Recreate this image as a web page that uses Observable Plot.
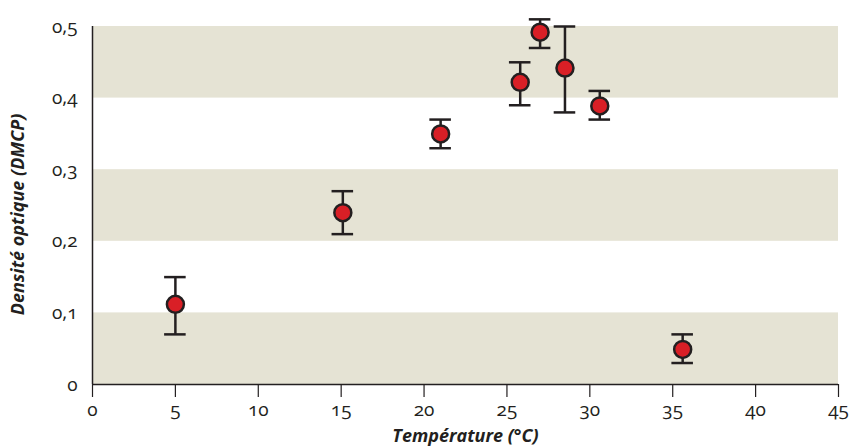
<!DOCTYPE html>
<html>
<head>
<meta charset="utf-8">
<script src="https://cdn.jsdelivr.net/npm/d3@7"></script>
<script src="https://cdn.jsdelivr.net/npm/@observablehq/plot@0.6"></script>
<style>
  html, body { margin: 0; padding: 0; background: #fff; }
  #chart svg { display: block; }
  #chart text { font-variant-numeric: oldstyle-nums; font-feature-settings: "onum" 1; }
</style>
</head>
<body>
<div id="chart"></div>
<script>
const temperature = [5, 15.1, 21, 25.8, 27, 28.5, 30.6, 35.6];
const density     = [0.112, 0.24, 0.35, 0.422, 0.492, 0.442, 0.389, 0.049];
const densityLow  = [0.07, 0.21, 0.33, 0.39, 0.47, 0.38, 0.37, 0.03];
const densityHigh = [0.15, 0.27, 0.37, 0.45, 0.51, 0.50, 0.41, 0.07];
const bandLow  = [0, 0.2, 0.4];
const bandHigh = [0.1, 0.3, 0.5];
const xTicks = [0, 5, 10, 15, 20, 25, 30, 35, 40, 45];
const yTicks = [0, 0.1, 0.2, 0.3, 0.4, 0.5];
const capHalf = 0.65;

const data = temperature.map((t, i) => ({t, v: density[i], lo: densityLow[i], hi: densityHigh[i]}));
const bands = bandLow.map((lo, i) => ({lo, hi: bandHigh[i]}));

const ink = "#231f20";
const fmtY = d => d === 0 ? "0" : d.toFixed(1).replace(".", ",");

const chart = Plot.plot({
  width: 850,
  height: 446,
  marginLeft: 92,
  marginRight: 12,
  marginTop: 26,
  marginBottom: 62,
  style: {fontFamily: "'Open Sans', sans-serif", fontSize: "19px", color: ink, background: "transparent"},
  x: {domain: [0, 45], label: null},
  y: {domain: [0, 0.5], label: null},
  marks: [
    Plot.rectY(bands, {y1: "lo", y2: "hi", fill: "#e5e3d4"}),
    Plot.ruleX([0], {stroke: ink, strokeWidth: 1.5}),
    Plot.ruleY([0], {stroke: ink, strokeWidth: 1.5}),
    Plot.axisX({ticks: xTicks, tickSize: 13, tickPadding: 5, stroke: ink, strokeWidth: 1.2, fontSize: 19, fill: ink, label: null}),
    Plot.axisY({ticks: yTicks, tickSize: 0, tickPadding: 15, tickFormat: fmtY, fontSize: 19, fill: ink, label: null}),
    Plot.ruleX(data, {x: "t", y1: "lo", y2: "hi", stroke: ink, strokeWidth: 2.5}),
    Plot.ruleY(data, {y: "lo", x1: d => d.t - capHalf, x2: d => d.t + capHalf, stroke: ink, strokeWidth: 2.5}),
    Plot.ruleY(data, {y: "hi", x1: d => d.t - capHalf, x2: d => d.t + capHalf, stroke: ink, strokeWidth: 2.5}),
    Plot.dot(data, {x: "t", y: "v", r: 8.5, fill: "#d91f26", stroke: ink, strokeWidth: 2.5}),
    Plot.text(["Température (°C)"], {frameAnchor: "bottom", lineAnchor: "middle", textAnchor: "middle", dy: 52, fontSize: 18, fontWeight: "bold", fontStyle: "italic", fill: ink}),
    Plot.text(["Densité optique (DMCP)"], {frameAnchor: "left", lineAnchor: "middle", textAnchor: "middle", dx: -74, dy: 9, rotate: -90, fontSize: 18, fontWeight: "bold", fontStyle: "italic", fill: ink})
  ]
});
document.getElementById("chart").appendChild(chart);
</script>
</body>
</html>
